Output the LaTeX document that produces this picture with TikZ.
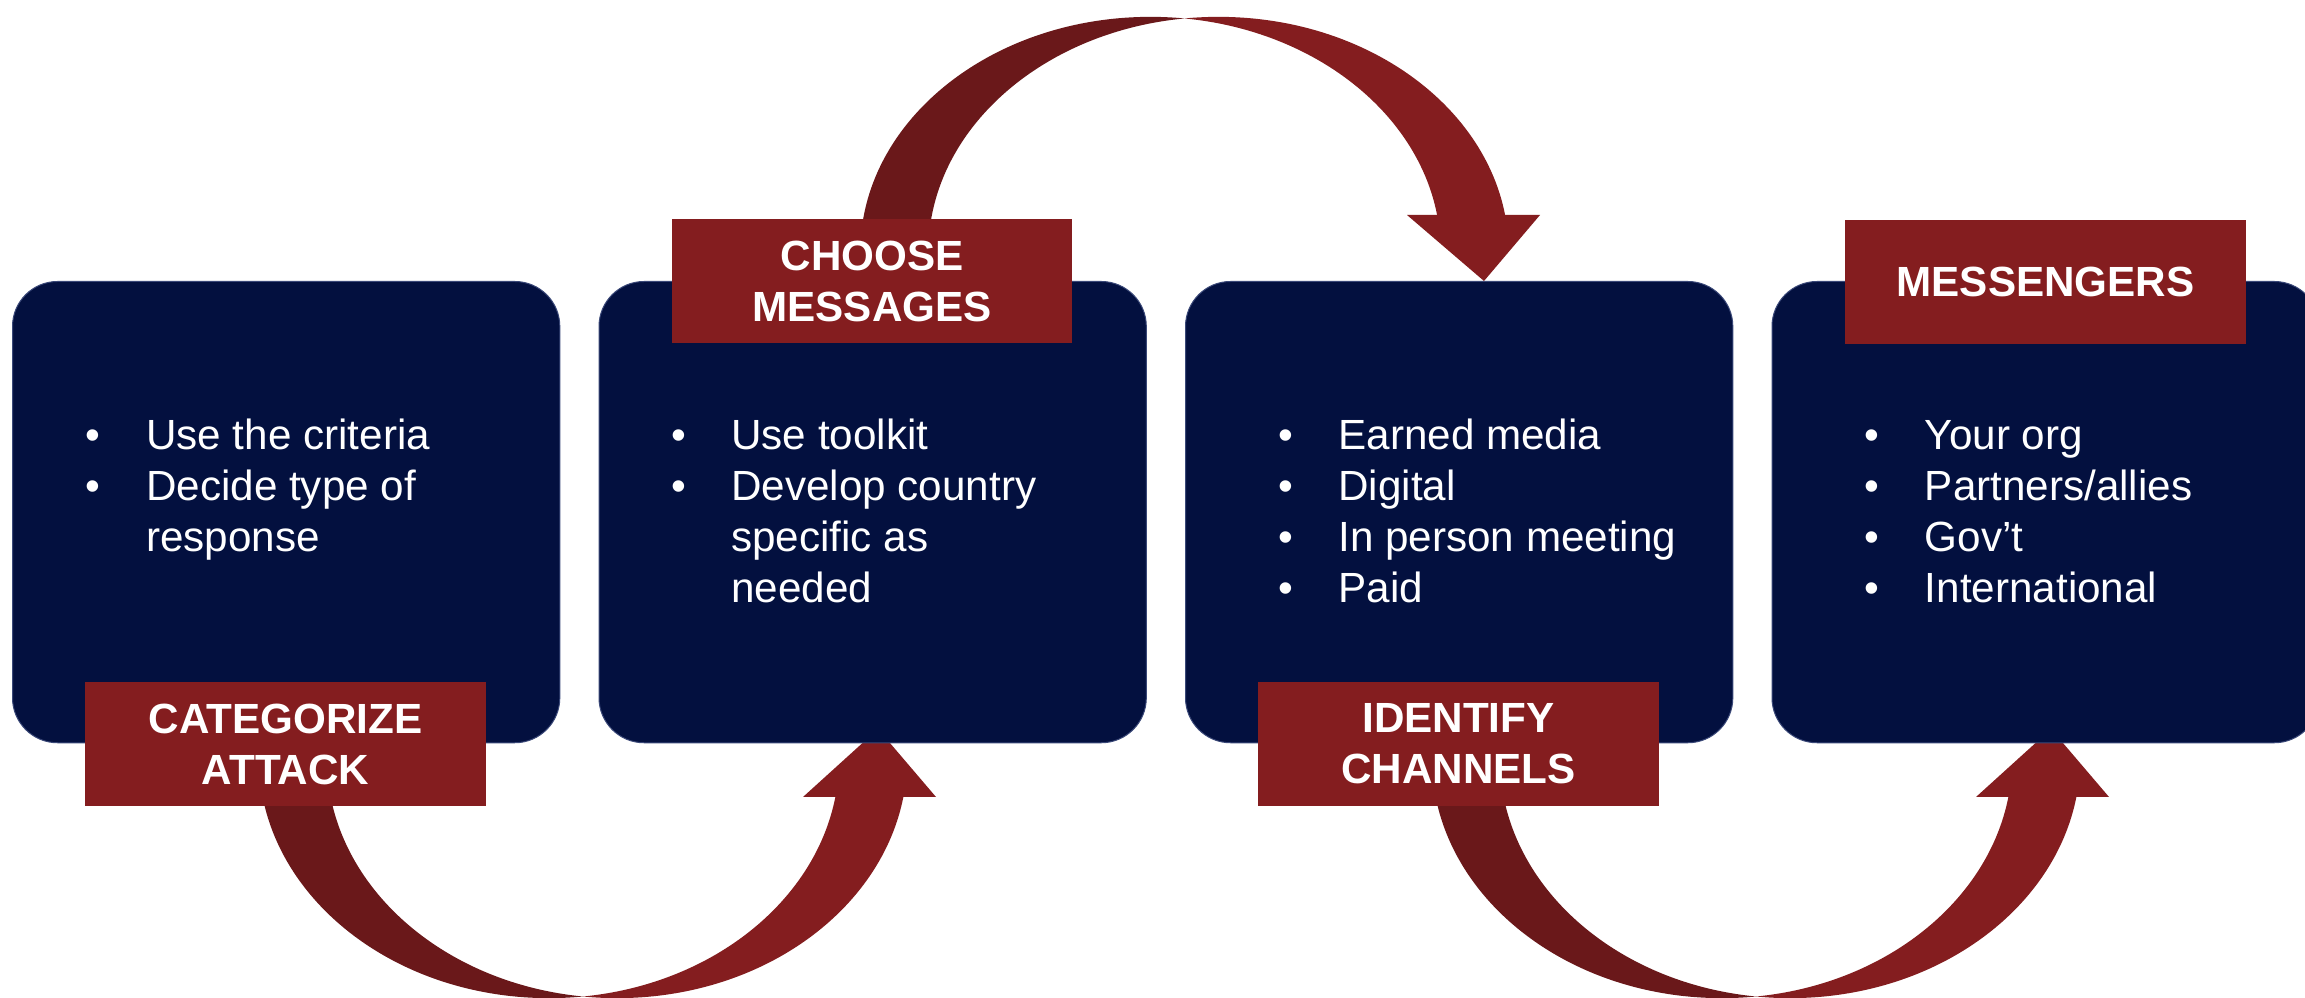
\documentclass[tikz,border=0pt]{standalone}
\usepackage{fontspec}
\setmainfont{Liberation Sans}
\usepackage{array}
\definecolor{navy}{HTML}{03103F}
\definecolor{lblred}{HTML}{841D1F}
\definecolor{darkred}{HTML}{6A181A}
\definecolor{boxline}{HTML}{3A4878}
\newcommand{\lblfont}{\fontsize{12}{14.5}\selectfont\bfseries}
\newcommand{\itemfont}{\fontsize{12}{14.5}\selectfont}
\newcommand{\blist}[1]{\begin{tabular}[t]{@{}p{0.603cm}@{}l@{}}#1\end{tabular}}
\begin{document}
\begin{tikzpicture}[x=0.01cm,y=-0.01cm,
  box/.style={rectangle, fill=navy, draw=boxline, line width=0.01cm, rounded corners=0.45cm,
    minimum width=5.47cm, minimum height=4.61cm, anchor=north west, inner sep=0pt},
  lbl/.style={rectangle, fill=lblred, text=white, font=\lblfont, align=center,
    minimum width=4cm, minimum height=1.24cm, inner sep=0pt},
  items/.style={anchor=base west, inner sep=0pt, text=white, font=\itemfont},
  back/.style={fill=darkred, even odd rule},
  front/.style={fill=lblred, even odd rule},
  ell/.style={x radius=2.9cm, y radius=2.4cm}]
\clip (0,0) rectangle (2305,998);
\fill[white] (0,0) rectangle (2305,998);

% arrow 1 (bottom, left)
\coordinate (a1l) at (549,758);
\coordinate (a1r) at (617,758);
\begin{scope}
  \clip (0,758) rectangle (583,1000);
  \fill[back] (a1l) ellipse [ell] (a1r) ellipse [ell];
\end{scope}
\begin{scope}
  \clip (583,797) rectangle (1000,1000);
  \fill[front] (a1l) ellipse [ell] (a1r) ellipse [ell];
\end{scope}
\coordinate (h1a) at (803,797);
\coordinate (h1t) at (878,729);
\coordinate (h1b) at (936,797);
\fill[lblred] (h1a) -- (h1t) -- (h1b) -- cycle;

% arrow 2 (top)
\coordinate (a2l) at (1150.5,252);
\coordinate (a2r) at (1218.5,252);
\begin{scope}
  \clip (600,0) rectangle (1184.5,252);
  \fill[back] (a2l) ellipse [x radius=2.9cm, y radius=2.35cm] (a2r) ellipse [x radius=2.9cm, y radius=2.35cm];
\end{scope}
\begin{scope}
  \clip (1184.5,0) rectangle (1700,215);
  \fill[front] (a2l) ellipse [x radius=2.9cm, y radius=2.35cm] (a2r) ellipse [x radius=2.9cm, y radius=2.35cm];
\end{scope}
\coordinate (h2a) at (1407,215);
\coordinate (h2t) at (1484,281);
\coordinate (h2b) at (1540,215);
\fill[lblred] (h2a) -- (h2t) -- (h2b) -- cycle;

% arrow 3 (bottom, right)
\coordinate (a3l) at (1722,758);
\coordinate (a3r) at (1790,758);
\begin{scope}
  \clip (1100,758) rectangle (1756,1000);
  \fill[back] (a3l) ellipse [ell] (a3r) ellipse [ell];
\end{scope}
\begin{scope}
  \clip (1756,797) rectangle (2305,1000);
  \fill[front] (a3l) ellipse [ell] (a3r) ellipse [ell];
\end{scope}
\coordinate (h3a) at (1976,797);
\coordinate (h3t) at (2051,729);
\coordinate (h3b) at (2109,797);
\fill[lblred] (h3a) -- (h3t) -- (h3b) -- cycle;

% boxes
\node[box] (b1) at (12,281) {};
\node[box] (b2) at (598.5,281) {};
\node[box] (b3) at (1185,281) {};
\node[box] (b4) at (1771.5,281) {};

% bullet texts
\node[items] (t1) at (85.2,449.5) {\blist{• & Use the criteria\\ • & Decide type of\\ & response}};
\node[items] (t2) at (670.3,449.5) {\blist{• & Use toolkit\\ • & Develop country\\ & specific as\\ & needed}};
\node[items] (t3) at (1277.4,449.5) {\blist{• & Earned media\\ • & Digital\\ • & In person meeting\\ • & Paid}};
\node[items] (t4) at (1863.9,449.5) {\blist{• & Your org\\ • & Partners/allies\\ • & Gov’t\\ • & International}};

% labels
\node[lbl] (l1) at (285.5,744) {CATEGORIZE\\ATTACK};
\node[lbl] (l2) at (872,281) {CHOOSE\\MESSAGES};
\node[lbl] (l3) at (1458.5,744) {IDENTIFY\\CHANNELS};
\node[lbl] (l4) at (2045.5,282) {MESSENGERS};
\end{tikzpicture}
\end{document}
